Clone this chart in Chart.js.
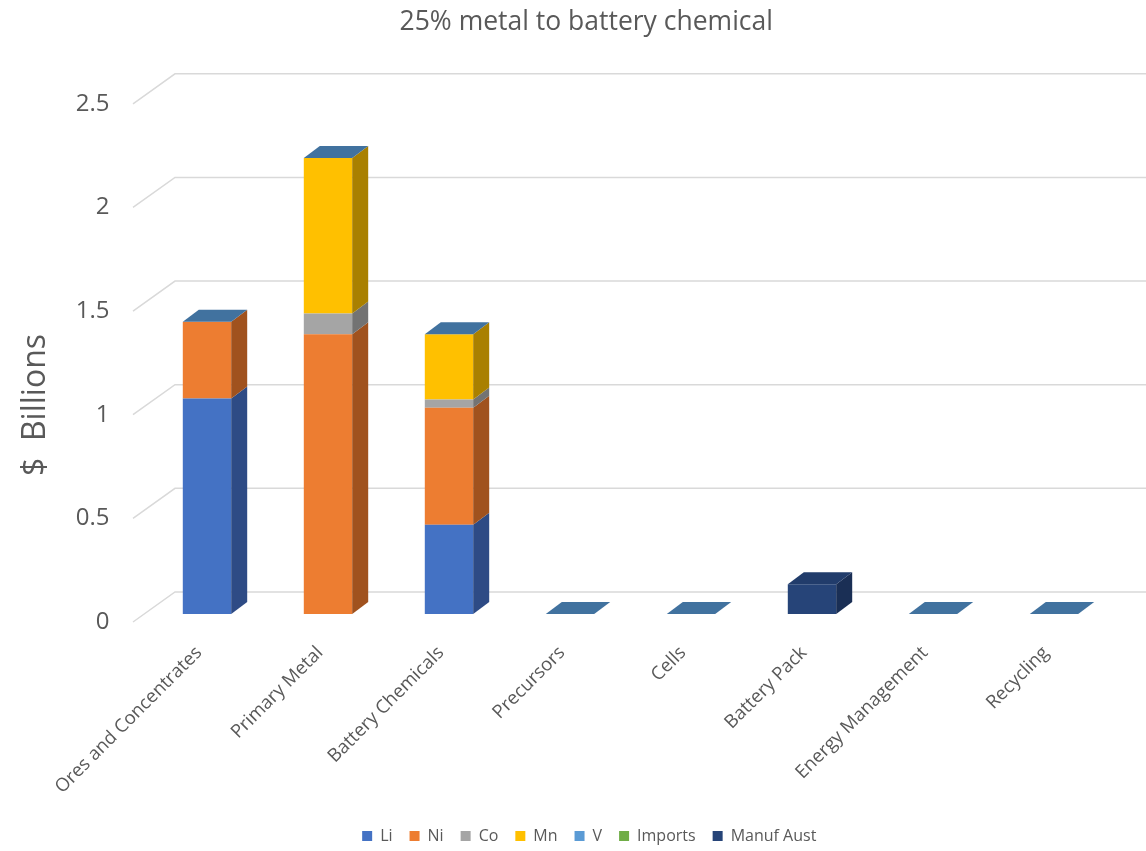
<!DOCTYPE html>
<html lang="en">
<head>
    <meta charset="UTF-8">
    <title>25% metal to battery chemical</title>
    <script src="https://cdn.jsdelivr.net/npm/chart.js"></script>
    <style>
        body {
            margin: 0;
            background: #ffffff;
        }
        canvas {
            display: block;
        }
    </style>
</head>
<body>
    <canvas id="chainChart" width="1146" height="851"></canvas>

    <script>
        // value chain stages and $ billions per metal (null = no entry)
        const stages = ['Ores and Concentrates', 'Primary Metal', 'Battery Chemicals', 'Precursors',
                        'Cells', 'Battery Pack', 'Energy Management', 'Recycling'];
        const li        = [1.04, 0,    0.43,  0, 0, null, 0, 0];
        const ni        = [0.37, 1.35, 0.565, 0, 0, null, 0, 0];
        const co        = [0,    0.10, 0.04,  0, 0, null, 0, 0];
        const mn        = [0,    0.75, 0.315, 0, 0, null, 0, 0];
        const v         = [0,    0,    0,     0, 0, null, 0, 0];
        const imports   = [null, null, null, null, null, null, null, null];
        const manufAust = [null, null, null, null, null, 0.144, null, null];
        const yTicks = [0, 0.5, 1, 1.5, 2, 2.5];

        const FONT = "'Open Sans', 'Noto Sans', sans-serif";
        const TEXT = '#595959';
        const GRID = '#d9d9d9';

        // face colours: front, side (shaded), top (shaded)
        const series = [
            { label: 'Li',         data: li,        front: '#4472c4', side: '#2e4b85', top: '#3d63a8' },
            { label: 'Ni',         data: ni,        front: '#ed7d31', side: '#a0521e', top: '#c96a29' },
            { label: 'Co',         data: co,        front: '#a5a5a5', side: '#737373', top: '#8c8c8c' },
            { label: 'Mn',         data: mn,        front: '#ffc000', side: '#a98000', top: '#d9a300' },
            { label: 'V',          data: v,         front: '#5b9bd5', side: '#3f6f9a', top: '#41729f' },
            { label: 'Imports',    data: imports,   front: '#70ad47', side: '#4d7a30', top: '#5f933c' },
            { label: 'Manuf Aust', data: manufAust, front: '#264478', side: '#1a2f55', top: '#213c6b' }
        ];

        // depth of the boxes and of the back wall
        const DEPTH_X = 16, DEPTH_Y = -12;
        const WALL_X0 = 133, WALL_X1 = 175;
        const FRONT_DY = 8, BACK_DY = -22;

        const wallGrid = {
            id: 'wallGrid',
            beforeDatasetsDraw(chart) {
                const ctx = chart.ctx;
                const ys = chart.scales.y;
                ctx.save();
                ctx.strokeStyle = GRID;
                ctx.lineWidth = 1.5;
                yTicks.forEach(t => {
                    const y = ys.getPixelForValue(t);
                    ctx.beginPath();
                    ctx.moveTo(WALL_X0, y + FRONT_DY);
                    ctx.lineTo(WALL_X1, y + BACK_DY);
                    ctx.lineTo(chart.width, y + BACK_DY);
                    ctx.stroke();
                });
                ctx.restore();
            }
        };

        const boxFaces = {
            id: 'boxFaces',
            afterDatasetsDraw(chart) {
                const ctx = chart.ctx;
                ctx.save();
                stages.forEach((s, i) => {
                    let topBar = null, topSeries = null;
                    series.forEach((sr, d) => {
                        if (sr.data[i] === null) return;
                        const bar = chart.getDatasetMeta(d).data[i];
                        const right = bar.x + bar.width / 2;
                        if (bar.base - bar.y > 0.5) {
                            ctx.fillStyle = sr.side;
                            ctx.beginPath();
                            ctx.moveTo(right, bar.y);
                            ctx.lineTo(right + DEPTH_X, bar.y + DEPTH_Y);
                            ctx.lineTo(right + DEPTH_X, bar.base + DEPTH_Y);
                            ctx.lineTo(right, bar.base);
                            ctx.closePath();
                            ctx.fill();
                        }
                        topBar = bar;
                        topSeries = sr;
                    });
                    if (!topBar) return;
                    const left = topBar.x - topBar.width / 2;
                    const right = topBar.x + topBar.width / 2;
                    ctx.fillStyle = topSeries.top;
                    ctx.beginPath();
                    ctx.moveTo(left, topBar.y);
                    ctx.lineTo(left + DEPTH_X, topBar.y + DEPTH_Y);
                    ctx.lineTo(right + DEPTH_X, topBar.y + DEPTH_Y);
                    ctx.lineTo(right, topBar.y);
                    ctx.closePath();
                    ctx.fill();
                });
                ctx.restore();
            },
            afterDraw(chart) {
                // vertical axis title
                const ctx = chart.ctx;
                ctx.save();
                ctx.translate(36, 405);
                ctx.rotate(-Math.PI / 2);
                ctx.font = '32px ' + FONT;
                ctx.fillStyle = TEXT;
                ctx.textAlign = 'center';
                ctx.textBaseline = 'middle';
                ctx.fillText('$  Billions', 0, 0);
                ctx.restore();
            }
        };

        // nudge title and legend off the plot-area centre
        const boxShift = {
            id: 'boxShift',
            afterLayout(chart) {
                const t = chart.titleBlock, l = chart.legend;
                t.left += 16; t.right += 16;
                l.left += 19; l.right += 19;
                l.top += 3; l.bottom += 3;
            }
        };

        const chainChart = new Chart(document.getElementById('chainChart'), {
            type: 'bar',
            data: {
                labels: stages,
                datasets: series.map(sr => ({
                    label: sr.label,
                    data: sr.data,
                    backgroundColor: sr.front,
                    borderWidth: 0
                }))
            },
            options: {
                responsive: false,
                animation: false,
                layout: {
                    padding: { left: 26, right: 31.5, top: 0, bottom: 0 }
                },
                datasets: {
                    bar: { categoryPercentage: 1, barPercentage: 0.4 }
                },
                scales: {
                    x: {
                        stacked: true,
                        grid: { display: false, drawTicks: false },
                        border: { display: false },
                        ticks: {
                            autoSkip: false,
                            minRotation: 45,
                            maxRotation: 45,
                            padding: 28,
                            labelOffset: -8,
                            color: TEXT,
                            font: { family: FONT, size: 18.5 }
                        },
                        afterFit(scale) { scale.height = 194; }
                    },
                    y: {
                        stacked: true,
                        min: 0,
                        max: 2.5,
                        grid: { display: false, drawTicks: false },
                        border: { display: false },
                        ticks: {
                            stepSize: 0.5,
                            padding: 37,
                            labelOffset: 8,
                            color: TEXT,
                            font: { family: FONT, size: 24 },
                            callback: value => String(value)
                        },
                        afterFit(scale) { scale.width = 120.5; }
                    }
                },
                plugins: {
                    title: {
                        display: true,
                        text: '25% metal to battery chemical',
                        color: TEXT,
                        font: { family: FONT, size: 26.5, weight: 'normal' },
                        padding: { top: 7, bottom: 57 }
                    },
                    legend: {
                        position: 'bottom',
                        labels: {
                            boxWidth: 10,
                            boxHeight: 10,
                            padding: 17,
                            color: TEXT,
                            font: { family: FONT, size: 16 }
                        }
                    },
                    tooltip: { enabled: false }
                }
            },
            plugins: [wallGrid, boxFaces, boxShift]
        });
    </script>
</body>
</html>
